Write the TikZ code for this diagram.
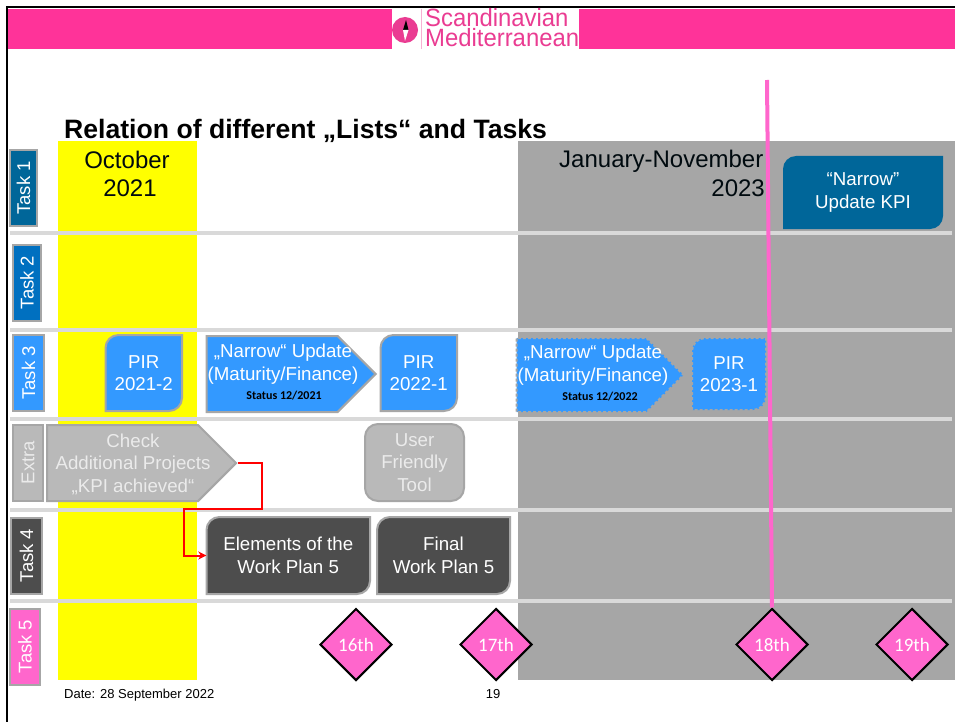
\documentclass[tikz,border=0pt]{standalone}
\usepackage{fontspec}
\setmainfont{Liberation Sans}
\newfontfamily\calibrifont{Carlito}
\usetikzlibrary{shapes.geometric}
\usetikzlibrary{shapes.symbols}
\usetikzlibrary{arrows.meta}
\usepackage{xcolor}
\definecolor{headpink}{HTML}{FF3399}
\definecolor{logopink}{HTML}{EA3C92}
\definecolor{taskpink}{HTML}{FF66CC}
\definecolor{monthyellow}{HTML}{FFFF00}
\definecolor{bandgrey}{HTML}{A6A6A6}
\definecolor{linegrey}{HTML}{D9D9D9}
\definecolor{darkblue}{HTML}{006699}
\definecolor{midblue}{HTML}{0070C0}
\definecolor{lightblue}{HTML}{3399FF}
\definecolor{softgrey}{HTML}{B9B9B9}
\definecolor{coal}{HTML}{4D4D4D}

% box with two rounded corners: style, name, x1, y1, x2, y2, text
\newcommand{\diagbox}[7]{%
  \draw[#1] (#3,#6) [rounded corners=13pt] -- (#3,#4) [sharp corners] -- (#5,#4)
    [rounded corners=13pt] -- (#5,#6) [sharp corners] -- cycle;
  \node[boxtext, minimum width={(#5-#3)*1pt}, minimum height={(#6-#4)*1pt}]
    (#2) at ({(#3+#5)/2},{(#4+#6)/2}) {#7};
}

\begin{document}
\begin{tikzpicture}[x=1pt, y=-1pt]
        % ================= styles =================
        \tikzset{
            % vertical labels on the left
            taskbox/.style={rectangle, draw=bandgrey, line width=2pt, rotate=90, minimum width=76pt, minimum height=28pt, inner sep=0pt, text=white, font=\fontsize{18.5}{20}\selectfont},
            % process boxes
            boxtext/.style={rectangle, inner sep=0pt, align=center, text=white, font=\fontsize{18.7}{22.5}\selectfont},
            bluebox/.style={draw=bandgrey, line width=2pt, fill=lightblue},
            dashbox/.style={draw=bandgrey, line width=2pt, dashed, dash pattern=on 3pt off 2pt, fill=lightblue},
            coalbox/.style={draw=bandgrey, line width=2pt, fill=coal},
            kpibox/.style={draw=none, fill=darkblue},
            % arrow shaped boxes
            listsign/.style={signal, signal to=east, signal pointer angle=90, draw=bandgrey, line width=2pt, inner sep=0pt, align=center, text=white},
            % milestones
            milestone/.style={diamond, draw=black, line width=2pt, fill=taskpink, minimum width=72pt, minimum height=72pt, inner sep=0pt, text=white, font=\calibrifont\fontsize{19}{20}\selectfont},
            statustext/.style={text=black, inner sep=0pt, font=\calibrifont\bfseries\fontsize{12}{14}\selectfont},
            monthtext/.style={inner sep=0pt, text=black!90!darkblue, align=center, font=\fontsize{24}{28}\selectfont},
            footertext/.style={inner sep=0pt, anchor=base, text=black, font=\fontsize{13}{15}\selectfont},
            logotext/.style={inner sep=0pt, anchor=base west, text=logopink, xscale=0.955, font=\fontsize{25}{26}\selectfont},
            rowline/.style={line width=4pt, linegrey},
            todayline/.style={line width=4pt, taskpink},
            linkline/.style={line width=2pt, red, -{Stealth[length=8pt,width=8pt]}}
        }
        \useasboundingbox (0,0) rectangle (955,722);
        \fill[white] (0,0) rectangle (955,722);

        % ================= header =================
        \fill[headpink] (8,9) rectangle (955,49);
        \fill[white] (392,9) rectangle (579,49);
        \draw[line width=2.5pt, black] (7,722) -- (7,7) -- (955,7);
        \fill[logopink] (405,30) circle (13);
        \fill[black] (406,20) -- (408.5,30) -- (403,30) -- cycle;
        \fill[white] (403,30) -- (408.5,30) -- (405,41) -- cycle;
        \draw[line width=0.7pt, logopink!40] (421,9) -- (421,49);
        \node[logotext] (logotop) at (425,26.5) {Scandinavian};
        \node[logotext] (logobottom) at (425,47) {Mediterranean};

        % ================= periods =================
        \fill[monthyellow] (58,141) rectangle (197,680);
        \fill[bandgrey] (518,141) rectangle (955,680);
        \foreach \y in {233,330,419,510,601} {
            \draw[rowline] (10,\y) -- (952,\y);
        }

        \node[inner sep=0pt, anchor=base west, font=\bfseries\fontsize{26.6}{30}\selectfont] (title) at (64,138.5) {Relation of different „Lists“ and Tasks};
        \node[monthtext] (oct) at (127,160) {October};
        \node[monthtext] (octyear) at (130,188) {2021};
        \node[monthtext, anchor=east] (jan) at (763.5,161) {January-November};
        \node[monthtext, anchor=east] (janyear) at (765,188.5) {2023};

        % ================= task labels =================
        \node[taskbox, fill=darkblue, minimum height=27pt] (task1) at (23.5,188) {Task 1};
        \node[taskbox, fill=midblue] (task2) at (27,282.5) {Task 2};
        \node[taskbox, fill=lightblue, minimum height=31pt] (task3) at (28.5,373) {Task 3};
        \node[taskbox, fill=softgrey, minimum height=30pt, text=white!92!black] (extra) at (28,462.5) {Extra};
        \node[taskbox, fill=coal, minimum height=31pt] (task4) at (26.5,555.5) {Task 4};
        \node[taskbox, fill=taskpink, minimum height=30pt] (task5) at (25,646.5) {Task 5};

        % ================= boxes =================
        \diagbox{kpibox}{kpi}{783}{156}{943}{229}{“Narrow”\\Update KPI}
        \diagbox{bluebox}{pirone}{105.5}{335}{182}{411}{PIR\\2021-2}
        \diagbox{bluebox}{pirtwo}{380.5}{335}{457}{411}{PIR\\2022-1}
        \diagbox{dashbox}{pirthree}{692}{338}{766}{410}{PIR\\2023-1}
        \diagbox{coalbox}{elements}{206.5}{517}{370}{594}{Elements of the\\Work Plan 5}
        \diagbox{coalbox}{finalplan}{377}{517}{510}{594}{Final\\Work Plan 5}

        \node[listsign, fill=lightblue, minimum width=169pt, minimum height=76pt, anchor=east] (narrowone) at (377,374) {};
        \node[boxtext] (narrowonetext) at (283,364) {„Narrow“ Update\\(Maturity/Finance)};
        \node[statustext] (statusone) at (284,396) {Status 12/2021};
        \node[listsign, fill=lightblue, dashed, dash pattern=on 3pt off 2pt, minimum width=167pt, minimum height=74pt, anchor=east] (narrowtwo) at (685,375) {};
        \node[boxtext] (narrowtwotext) at (593,365) {„Narrow“ Update\\(Maturity/Finance)};
        \node[statustext] (statustwo) at (600,397) {Status 12/2022};

        \node[listsign, fill=softgrey, minimum width=189pt, minimum height=76pt, anchor=east] (check) at (237.5,463) {};
        \node[boxtext, text=white!92!black] (checktext) at (133,464) {Check\\Additional Projects\\„KPI achieved“};
        \node[boxtext, rectangle, rounded corners=13pt, draw=bandgrey, line width=2pt, fill=softgrey, text=white!92!black, minimum width=99pt, minimum height=77pt] (userbox) at (414.5,462.5) {User\\Friendly\\Tool};

        \draw[linkline] (check.east) -- ++(24,0) -- ++(0,46) -- ++(-78,0) |- (elements.west);

        % ================= milestones =================
        \node[milestone] (m16) at (356,644.5) {16th};
        \node[milestone] (m17) at (496,644.5) {17th};
        \node[milestone] (m18) at (772,644.5) {18th};
        \node[milestone] (m19) at (912,644.5) {19th};

        \coordinate (todaytop) at (767,80);
        \draw[todayline] (todaytop) -- (m18.north);

        \node[footertext, anchor=base west] (date) at (64,698) {Date: 28 September 2022};
        \node[footertext] (pageno) at (493,698) {19};
\end{tikzpicture}
\end{document}
